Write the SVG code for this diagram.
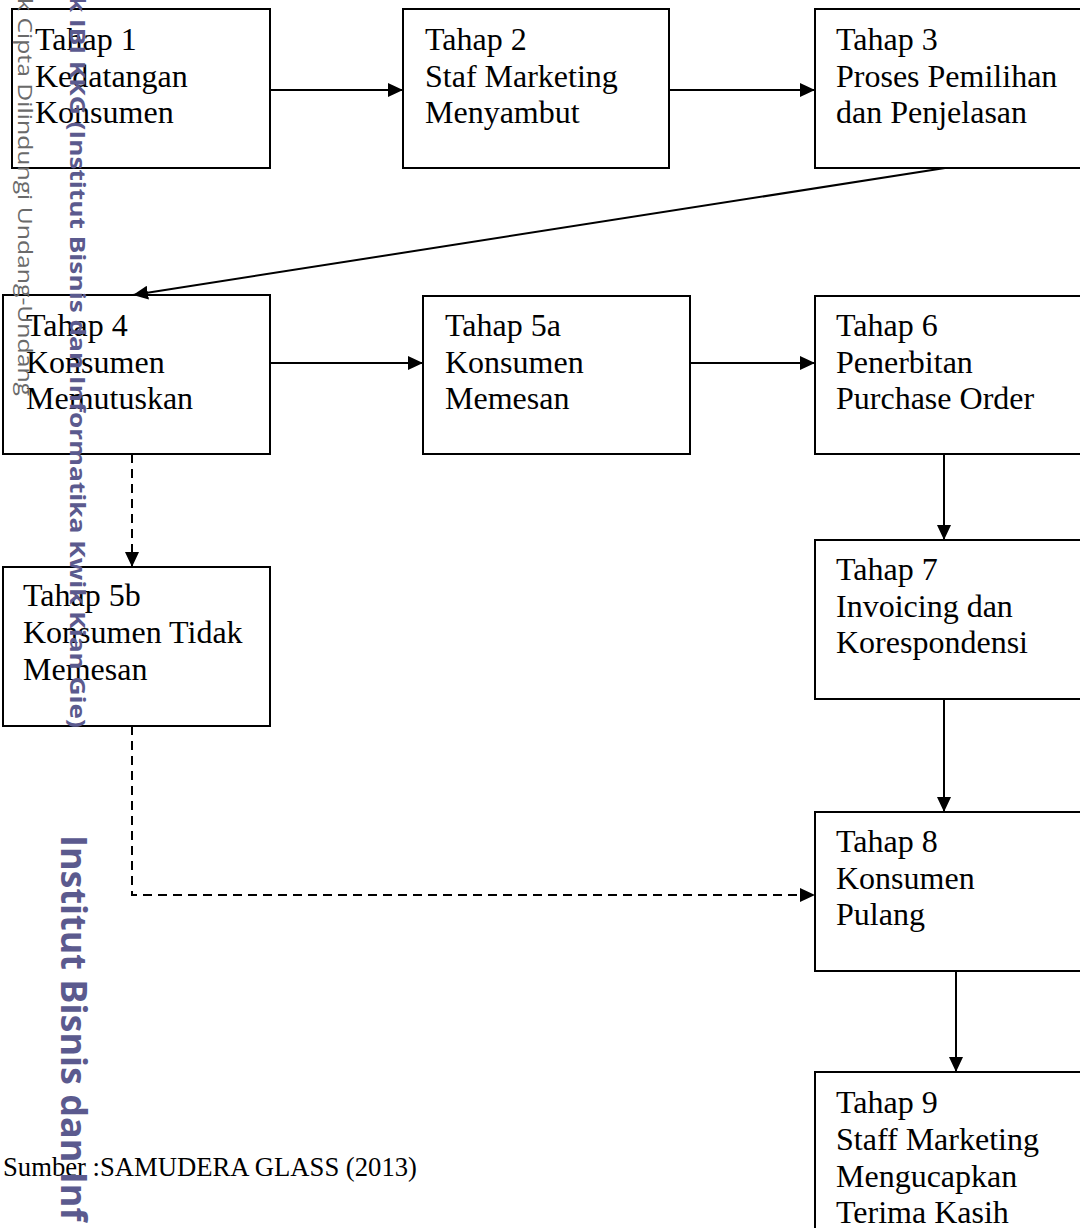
<svg xmlns="http://www.w3.org/2000/svg" width="1080" height="1228" viewBox="0 0 1080 1228">
<style>
.box{fill:none;stroke:#000;stroke-width:2}
.t{font-family:"Liberation Serif","Times New Roman",serif;font-size:32px;fill:#000}
.c{stroke:#000;stroke-width:2;fill:none}
.d{stroke-dasharray:9 6}
.wm1{font-family:"Open Sans","DejaVu Sans",sans-serif;font-size:20px;fill:#6a6a6a}
.wm2{font-family:"Open Sans","DejaVu Sans",sans-serif;font-weight:bold;font-size:22px;fill:#5b5a8e}
.wm3{font-family:"Open Sans","DejaVu Sans",sans-serif;font-weight:bold;font-size:36px;fill:#5b5a8e}
</style>
<defs>
<marker id="ah" markerUnits="userSpaceOnUse" markerWidth="15" markerHeight="14" refX="15" refY="7" orient="auto">
<path d="M0,0 L15,7 L0,14 z" fill="#000"/>
</marker>
</defs>
<rect width="1080" height="1228" fill="#fff"/>
<g id="connectors">
<line class="c" x1="270" y1="90" x2="403" y2="90" marker-end="url(#ah)"/>
<line class="c" x1="669" y1="90" x2="815" y2="90" marker-end="url(#ah)"/>
<line class="c" x1="945" y1="168" x2="133" y2="295" marker-end="url(#ah)"/>
<line class="c" x1="270" y1="363" x2="423" y2="363" marker-end="url(#ah)"/>
<line class="c" x1="690" y1="363" x2="815" y2="363" marker-end="url(#ah)"/>
<line class="c d" x1="132" y1="454" x2="132" y2="567" marker-end="url(#ah)"/>
<line class="c" x1="944" y1="454" x2="944" y2="540" marker-end="url(#ah)"/>
<line class="c" x1="944" y1="699" x2="944" y2="812" marker-end="url(#ah)"/>
<polyline class="c d" points="132,726 132,895 815,895" marker-end="url(#ah)"/>
<line class="c" x1="956" y1="971" x2="956" y2="1072" marker-end="url(#ah)"/>
</g>
<g id="n1"><rect class="box" x="12" y="9" width="258" height="159"/>
<text class="t" x="35" y="50">Tahap 1<tspan x="35" y="86.5">Kedatangan</tspan><tspan x="35" y="123">Konsumen</tspan></text></g>
<g id="n2"><rect class="box" x="403" y="9" width="266" height="159"/>
<text class="t" x="425" y="50">Tahap 2<tspan x="425" y="86.5">Staf Marketing</tspan><tspan x="425" y="123">Menyambut</tspan></text></g>
<g id="n3"><rect class="box" x="815" y="9" width="280" height="159"/>
<text class="t" x="836" y="50">Tahap 3<tspan x="836" y="86.5">Proses Pemilihan</tspan><tspan x="836" y="123">dan Penjelasan</tspan></text></g>
<g id="n4"><rect class="box" x="3" y="295" width="267" height="159"/>
<text class="t" x="26" y="336">Tahap 4<tspan x="26" y="372.5">Konsumen</tspan><tspan x="26" y="409">Memutuskan</tspan></text></g>
<g id="n5a"><rect class="box" x="423" y="296" width="267" height="158"/>
<text class="t" x="445" y="336">Tahap 5a<tspan x="445" y="372.5">Konsumen</tspan><tspan x="445" y="409">Memesan</tspan></text></g>
<g id="n6"><rect class="box" x="815" y="296" width="280" height="158"/>
<text class="t" x="836" y="336">Tahap 6<tspan x="836" y="372.5">Penerbitan</tspan><tspan x="836" y="409">Purchase Order</tspan></text></g>
<g id="n5b"><rect class="box" x="3" y="567" width="267" height="159"/>
<text class="t" x="23" y="606">Tahap 5b<tspan x="23" y="643">Konsumen Tidak</tspan><tspan x="23" y="680">Memesan</tspan></text></g>
<g id="n7"><rect class="box" x="815" y="540" width="280" height="159"/>
<text class="t" x="836" y="580">Tahap 7<tspan x="836" y="616.5">Invoicing dan</tspan><tspan x="836" y="653">Korespondensi</tspan></text></g>
<g id="n8"><rect class="box" x="815" y="812" width="280" height="159"/>
<text class="t" x="836" y="852">Tahap 8<tspan x="836" y="888.5">Konsumen</tspan><tspan x="836" y="925">Pulang</tspan></text></g>
<g id="n9"><rect class="box" x="815" y="1072" width="280" height="200"/>
<text class="t" x="836" y="1113">Tahap 9<tspan x="836" y="1150">Staff Marketing</tspan><tspan x="836" y="1187">Mengucapkan</tspan><tspan x="836" y="1223">Terima Kasih</tspan></text></g>
<text x="3" y="1176" style="font-family:'Liberation Serif','Times New Roman',serif;font-size:26.67px;fill:#000">Sumber :SAMUDERA GLASS (2013)</text>
<g id="watermark">
<text class="wm1" transform="translate(18,-2) rotate(90)" textLength="398" lengthAdjust="spacingAndGlyphs">k Cipta Dilindungi Undang-Undang</text>
<text class="wm2" transform="translate(70,-4) rotate(90)" textLength="732" lengthAdjust="spacingAndGlyphs">k IBI KKG (Institut Bisnis dan Informatika Kwik Kian Gie)</text>
<text class="wm3" transform="translate(61,835) rotate(90)">Institut Bisnis dan Inf</text>
</g>
</svg>
